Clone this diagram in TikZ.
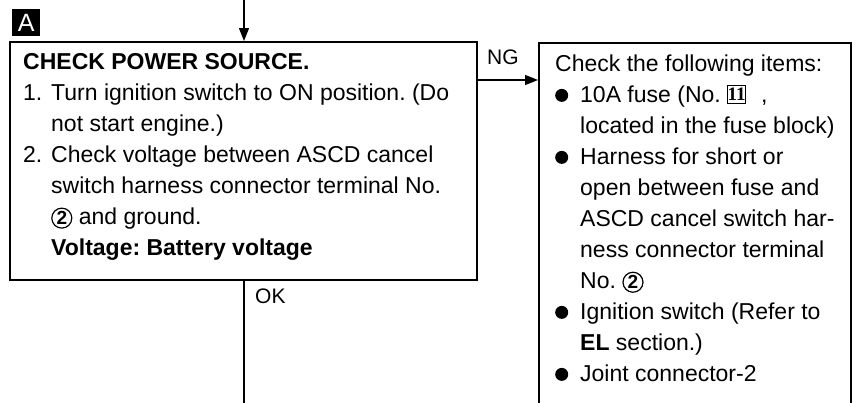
\documentclass[tikz,border=0pt]{standalone}
\usepackage{fontspec}
\setmainfont{Liberation Sans}
\newfontfamily\serifnum{Liberation Serif}
\usetikzlibrary{arrows.meta}
\frenchspacing

\tikzset{stepbox/.style={
    rectangle,
    draw,
    line width=1.5pt,
    inner sep=0pt
  },
  steptext/.style={align=left,inner sep=0pt,font=\fontsize{23}{31}\selectfont},
  flowline/.style={line width=1.2pt},
  flowarrow/.style={flowline,-{Triangle[length=13pt,width=10pt]}},
  branch/.style={inner sep=0pt,font=\fontsize{21}{25}\selectfont},
  tagbox/.style={fill=black,text=white,inner sep=0pt,minimum width=28pt,
    minimum height=27pt,font=\fontsize{25}{25}\selectfont},
}
\newcommand{\termno}[1]{\tikz[baseline=(t.base)]\node[circle,draw,line width=1.2pt,
  inner sep=0pt,minimum size=20pt,font=\bfseries\fontsize{19}{19}\selectfont] (t) {#1};}
\newcommand{\fuseno}[1]{\tikz[baseline={([yshift=1pt]f.south)}]\node[draw,line width=0.9pt,
  inner sep=0pt,minimum height=18pt,minimum width=18pt,
  font=\serifnum\bfseries\fontsize{19}{19}\selectfont] (f) {#1};}
\newcommand{\blob}{\makebox[25pt][l]{\tikz[baseline]\fill (6.5pt,7.5pt) circle (6.5pt);}}
\newcommand{\stepno}[1]{\makebox[28pt][l]{#1}}

\begin{document}
\begin{tikzpicture}[x=1pt,y=-1pt]
  \useasboundingbox (0,0) rectangle (856,402);
  \clip (0,0) rectangle (856,402);
  % boxes
  \node [tagbox,anchor=north west] (tagA) at (12,9) {A};
  \node [stepbox,anchor=north west,minimum width=467pt,minimum height=238pt]
    (check) at (9,41) {};
  \node [steptext,anchor=north west] (checktext) at (23,53.5) {%
    {\bfseries CHECK POWER SOURCE.}\\
    \stepno{1.}Turn ignition switch to ON position. (Do\\
    \stepno{}not start engine.)\\
    \stepno{2.}Check voltage between ASCD cancel\\
    \stepno{}switch harness connector terminal No.\\
    \stepno{}\termno{2} and ground.\\
    \stepno{}{\bfseries Voltage: Battery voltage}};
  \node [stepbox,anchor=north west,minimum width=312pt,minimum height=400pt]
    (items) at (538,42) {};
  \node [steptext,anchor=north west] (itemstext) at (555,55) {%
    Check the following items:\\
    \blob 10A fuse (No. \fuseno{11}\hspace{15pt},\\
    \hspace*{25pt}located in the fuse block)\\
    \blob Harness for short or\\
    \hspace*{25pt}open between fuse and\\
    \hspace*{25pt}ASCD cancel switch har-\\
    \hspace*{25pt}ness connector terminal\\
    \hspace*{25pt}No. \termno{2}\\
    \blob Ignition switch (Refer to\\
    \hspace*{25pt}{\bfseries EL} section.)\\
    \blob Joint connector-2};
  % connectors
  \coordinate (entry) at (244,-2);
  \coordinate (exit) at (244,404);
  \coordinate (ngrow) at (500,80);
  \draw[flowarrow] (entry) -- (entry |- check.north);
  \draw[flowarrow] (check.east |- ngrow) -- (items.west |- ngrow);
  \draw[flowline] (check.south -| exit) -- (exit);
  \node [branch,anchor=base west] (ng) at (487,64) {NG};
  \node [branch,anchor=base west] (ok) at (255,303) {OK};
\end{tikzpicture}
\end{document}
